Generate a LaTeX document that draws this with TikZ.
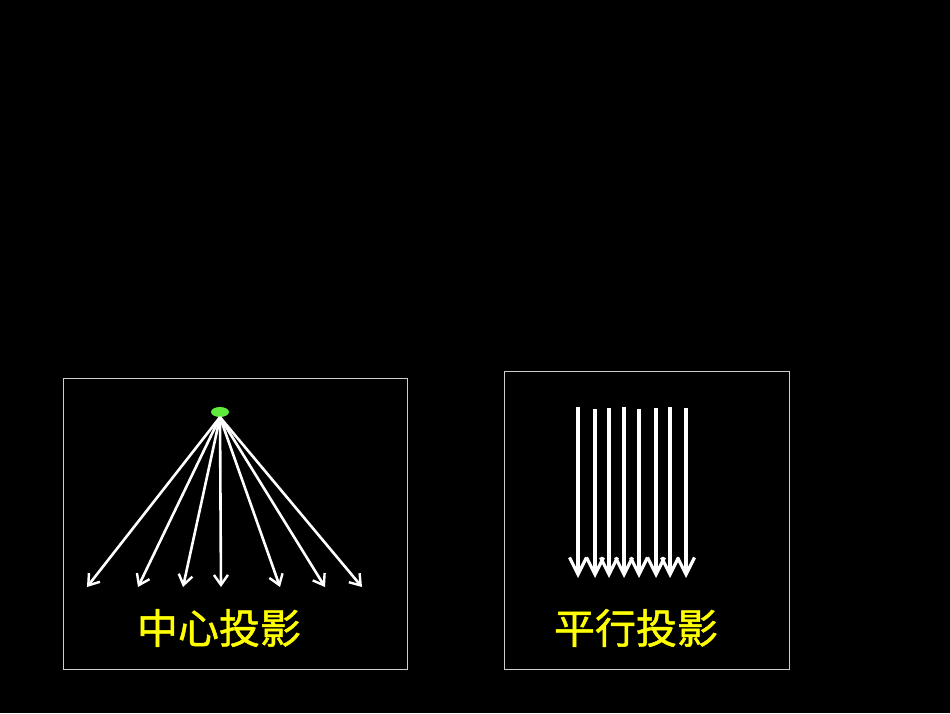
\documentclass[tikz,border=0pt]{standalone}
\usepackage{fontspec}
\newfontfamily\cjk{Noto Sans CJK SC}[FakeBold=1.2]
\usetikzlibrary{arrows.meta}
\usetikzlibrary{shapes.geometric}
\definecolor{dotgreen}{RGB}{95,235,60}
\definecolor{labelyellow}{RGB}{255,255,0}
\definecolor{framegray}{RGB}{205,205,205}

\begin{document}
\begin{tikzpicture}[x=1pt,y=-1pt,
  frame/.style={framegray, line width=0.9pt},
  ray/.style={white, line width=2.6pt, -{Straight Barb[length=10pt,width=14pt,line width=2.4pt]}},
  beam/.style={white, line width=3.4pt, -{Straight Barb[length=17pt,width=17pt,line width=3.2pt]}},
  caption/.style={labelyellow, font=\cjk\fontsize{41}{44}\selectfont, inner sep=0pt}]
  \fill[black] (0,0) rectangle (950,713);
  \useasboundingbox (0,0) rectangle (950,713);
  % the two panels
  \draw[frame] (63,378) rectangle (407,669);
  \draw[frame] (504,371) rectangle (789,669);
  % central projection
  \node (S) [ellipse, fill=dotgreen, minimum width=18pt, minimum height=10pt, inner sep=0pt] at (220,412) {};
  \foreach \x [count=\i] in {87,138,183,221,280,325,362}
  {
    \coordinate (T\i) at (\x,587);
    \draw[ray] (S.south) -- (T\i);
  }
  % parallel projection
  \foreach \x/\y [count=\i] in {578/407,595/409,609/408,624/407,639/409,656/408,670/407,686/408}
  {
    \coordinate (P\i) at (\x,\y);
    \coordinate (Q\i) at (\x,578);
    \draw[beam] (P\i) -- (Q\i);
  }
  % captions
  \node (central) [caption] at (219,628) {中心投影};
  \node (parallel) [caption] at (636,628) {平行投影};
\end{tikzpicture}
\end{document}
